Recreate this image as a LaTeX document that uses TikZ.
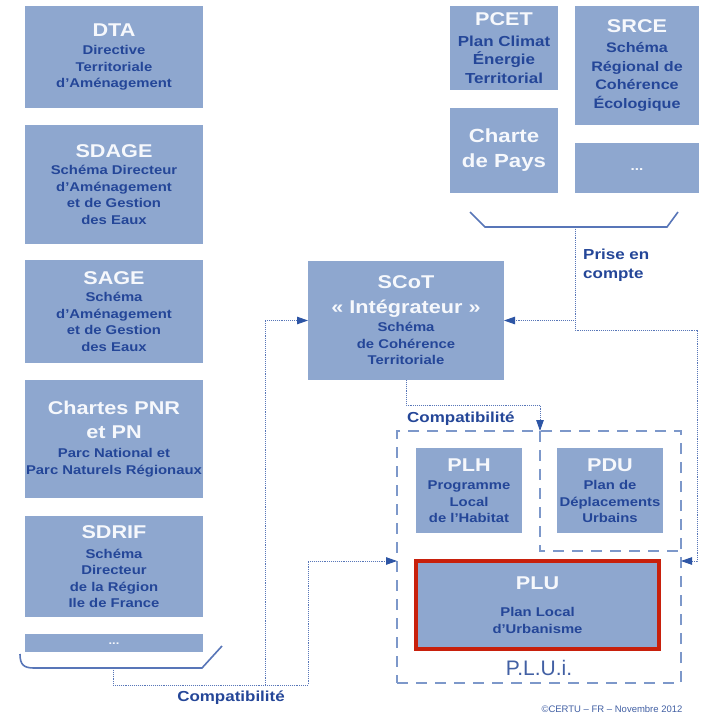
\documentclass[tikz,border=0pt]{standalone}
\usepackage{fontspec}
\setmainfont{Liberation Sans}[FakeStretch=1.17]
\newfontfamily\plainsans{Liberation Sans}
\usetikzlibrary{arrows.meta}
\definecolor{boxblue}{RGB}{142,167,207}
\definecolor{subblue}{RGB}{36,70,152}
\definecolor{titlew}{RGB}{246,248,252}
\definecolor{lineblue}{RGB}{88,118,184}
\definecolor{tipblue}{RGB}{45,85,165}
\definecolor{dashblue}{RGB}{125,152,202}
\definecolor{plured}{RGB}{200,32,12}
\definecolor{pluiblue}{RGB}{66,96,164}
\newcommand\ttl[1]{{\color{titlew}\bfseries\fontsize{18.5}{20}\selectfont #1}}
\tikzset{
  doc/.style={fill=boxblue, draw=none, inner sep=0pt, outer sep=0pt, align=center,
    font=\bfseries\fontsize{12.7}{16.5}\selectfont, text=subblue},
  conn/.style={draw=lineblue, line width=0.9pt, densely dotted},
  tipa/.style={-{Triangle[length=11pt,width=7.5pt,color=tipblue]}},
  brk/.style={draw=lineblue, line width=1.6pt},
  pluibox/.style={draw=dashblue, line width=1.4pt, dash pattern=on 11pt off 8pt},
  lab/.style={text=subblue, font=\bfseries\fontsize{14.5}{19}\selectfont, inner sep=0pt, align=left},
}
\begin{document}
\begin{tikzpicture}[x=1pt, y=-1pt]
\useasboundingbox (0,0) rectangle (708,715);
\fill[white] (0,0) rectangle (708,715);

% left column
\node[doc, minimum width=178pt, minimum height=102pt] (dta) at (114,57)
  {\ttl{DTA}\\[2pt] Directive\\ Territoriale\\ d'Aménagement};
\node[doc, minimum width=178pt, minimum height=119pt] (sdage) at (114,184.5)
  {\ttl{SDAGE}\\[1pt] Schéma Directeur\\ d'Aménagement\\ et de Gestion\\ des Eaux};
\node[doc, minimum width=178pt, minimum height=103pt] (sage) at (114,311.5)
  {\ttl{SAGE}\\[1pt] Schéma\\ d'Aménagement\\ et de Gestion\\ des Eaux};
\node[doc, minimum width=178pt, minimum height=118pt] (pnr) at (114,439)
  {\ttl{Chartes PNR}\\[7.5pt] \ttl{et PN}\\[2.5pt] Parc National et\\ Parc Naturels Régionaux};
\node[doc, minimum width=178pt, minimum height=101pt] (sdrif) at (114,566.5)
  {\ttl{SDRIF}\\[3.5pt] Schéma\\ Directeur\\ de la Région\\ Ile de France};
\node[doc, minimum width=178pt, minimum height=18pt, text=titlew,
  font=\bfseries\fontsize{11}{12}\selectfont] (dotsl) at (114,643) {\raisebox{-3pt}{...}};

% left bracket
\coordinate (lb) at (113,668);
\draw[brk] (20,654) .. controls (20,665) and (24,668) .. (34,668) -- (202,668) -- (222,646);

% right top boxes
\node[doc, minimum width=108pt, minimum height=84pt, font=\bfseries\fontsize{14.5}{18.5}\selectfont] (pcet) at (504,48)
  {\ttl{PCET}\\[2.5pt] Plan Climat\\ Énergie\\ Territorial};
\node[doc, minimum width=124pt, minimum height=119pt, font=\bfseries\fontsize{13.8}{18.5}\selectfont] (srce) at (637,65.5)
  {\ttl{SRCE}\\[2pt] Schéma\\ Régional de\\ Cohérence\\ Écologique};
\node[doc, minimum width=108pt, minimum height=85pt, text=titlew,
  font=\bfseries\fontsize{19}{25}\selectfont] (charte) at (504,150.5) {Charte\\ de Pays};
\node[doc, minimum width=124pt, minimum height=50pt, text=titlew,
  font=\bfseries\fontsize{13}{15}\selectfont] (dotsr) at (637,168) {\raisebox{-4pt}{...}};

% right bracket
\coordinate (rb) at (575,227);
\draw[brk] (470,212) -- (485,227) -- (667,227) -- (678,212);

% SCoT
\node[doc, minimum width=196pt, minimum height=119pt] (scot) at (406,320.5)
  {\ttl{SCoT}\\[8.5pt] \ttl{« Intégrateur »}\\[1.5pt] Schéma\\ de Cohérence\\ Territoriale};

% PLUi frame
\node[pluibox, minimum width=284pt, minimum height=252pt, inner sep=0pt, outer sep=0pt] (plui) at (539,557) {};
\coordinate (jc) at (540,405);
\draw[pluibox] (plui.north -| jc) -- (540,551) -- (plui.east |- 0,551);

% PLH / PDU
\node[doc, minimum width=106pt, minimum height=85pt] (plh) at (469,490.5)
  {\ttl{PLH}\\[2pt] Programme\\ Local\\ de l'Habitat};
\node[doc, minimum width=106pt, minimum height=85pt] (pdu) at (610,490.5)
  {\ttl{PDU}\\[2pt] Plan de\\ Déplacements\\ Urbains};

% PLU
\node[doc, draw=plured, line width=4pt, minimum width=243pt, minimum height=88pt] (plu) at (537.5,605)
  {\ttl{PLU}\\[10.5pt] Plan Local\\ d'Urbanisme};
\node[text=pluiblue, font=\plainsans\fontsize{21}{24}\selectfont, inner sep=0pt] (pluilab) at (539,668) {P.L.U.i.};

% connectors
\coordinate (jl) at (308,685);
\coordinate (js) at (265,685);
\coordinate (jr) at (697,330);
\draw[conn, tipa] (lb) |- (jl) |- (plui.west |- plu.north);
\draw[conn, tipa] (js) |- (scot.west);
\draw[conn, tipa] (rb) |- (scot.east);
\draw[conn, tipa] (rb) |- (jr) |- (plui.east |- plu.north);
\draw[conn, tipa] (scot.south) |- (jc) -- (plui.north -| jc);

% labels
\node[lab, anchor=west] (compmid) at (407,419) {Compatibilité};
\node[lab] (compbot) at (231,698) {Compatibilité};
\node[lab, anchor=north west] (prise) at (583,249) {Prise en\\ compte};
\node[text=pluiblue, font=\plainsans\fontsize{9.5}{11}\selectfont, inner sep=0pt] (copy) at (612,709)
  {©CERTU – FR – Novembre 2012};
\end{tikzpicture}
\end{document}
